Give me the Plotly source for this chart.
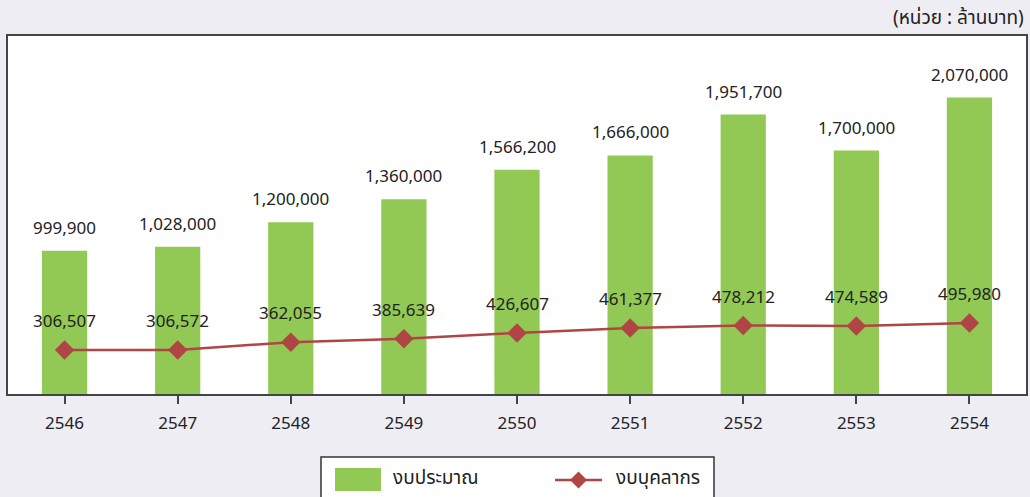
import plotly.graph_objects as go

years = ["2546", "2547", "2548", "2549", "2550", "2551", "2552", "2553", "2554"]
budget = [999900, 1028000, 1200000, 1360000, 1566200, 1666000, 1951700, 1700000, 2070000]
personnel = [306507, 306572, 362055, 385639, 426607, 461377, 478212, 474589, 495980]
budget_name = "งบประมาณ"
personnel_name = "งบบุคลากร"
unit_text = "(หน่วย : ล้านบาท)"

FONT = "Noto Sans Thai, Noto Sans, Lato, sans-serif"
TXT = "#222222"
GREEN = "#92c955"
RED = "#b04545"

# plot area in pixels (for manual legend placement)
L, R, T, B = 8, 1026, 36, 394
W, H = 1030, 497


def px(x):
    return (x - L) / (R - L)


def py(y):
    return (B - y) / (B - T)


fig = go.Figure()
fig.add_trace(go.Bar(
    x=years, y=budget, name=budget_name,
    marker=dict(color=GREEN, line=dict(width=0)),
    width=0.4, showlegend=False,
))
fig.add_trace(go.Scatter(
    x=years, y=personnel, name=personnel_name, mode="lines+markers",
    line=dict(color=RED, width=2.5),
    marker=dict(symbol="diamond", size=15, color=RED),
    cliponaxis=False, showlegend=False,
))

shapes = [
    # legend box
    dict(type="rect", xref="paper", yref="paper",
         x0=px(321), x1=px(714), y0=py(457), y1=py(505),
         line=dict(color="#333333", width=1.5), fillcolor="#ffffff", layer="above"),
    # bar legend symbol
    dict(type="rect", xref="paper", yref="paper",
         x0=px(335), x1=px(381), y0=py(468), y1=py(491),
         line=dict(width=0), fillcolor=GREEN, layer="above"),
    # line legend symbol
    dict(type="line", xref="paper", yref="paper",
         x0=px(555), x1=px(602), y0=py(480), y1=py(480),
         line=dict(color=RED, width=2.5), layer="above"),
    dict(type="path", xref="paper", yref="paper", layer="above",
         path=(f"M {px(570)} {py(480)} L {px(578.5)} {py(471.5)} "
               f"L {px(587)} {py(480)} L {px(578.5)} {py(488.5)} Z"),
         line=dict(width=0), fillcolor=RED),
]

annotations = [
    dict(text=unit_text, xref="paper", yref="paper", x=px(1026), y=py(18),
         xanchor="right", yanchor="middle", showarrow=False,
         font=dict(size=19, color=TXT, family=FONT)),
    dict(text=budget_name, xref="paper", yref="paper", x=px(391), y=py(479),
         xanchor="left", yanchor="middle", showarrow=False,
         font=dict(size=19, color=TXT, family=FONT)),
    dict(text=personnel_name, xref="paper", yref="paper", x=px(614), y=py(479),
         xanchor="left", yanchor="middle", showarrow=False,
         font=dict(size=19, color=TXT, family=FONT)),
]

# value labels anchored to the data points (category index on x)
for i, v in enumerate(budget):
    annotations.append(dict(
        x=i, y=v, xref="x", yref="y", text=f"{v:,}", showarrow=False,
        xanchor="center", yanchor="middle", yshift=22,
        font=dict(size=17, color=TXT, family=FONT)))
for i, v in enumerate(personnel):
    annotations.append(dict(
        x=i, y=v, xref="x", yref="y", text=f"{v:,}", showarrow=False,
        xanchor="center", yanchor="middle", yshift=28,
        font=dict(size=17, color=TXT, family=FONT)))

fig.update_layout(
    width=W, height=H,
    margin=dict(l=L, r=W - R, t=T, b=H - B, autoexpand=False),
    paper_bgcolor="#efedf4", plot_bgcolor="#ffffff",
    font=dict(family=FONT, size=17, color=TXT),
    showlegend=False,
    shapes=shapes,
    annotations=annotations,
)
fig.update_xaxes(
    type="category", range=[-0.5, 8.5],
    showline=True, mirror=True, linecolor="#444444", linewidth=1.5,
    ticks="outside", ticklen=8, tickcolor="#444444", tickwidth=1.5,
    ticklabelstandoff=5,
    tickfont=dict(size=17, color=TXT, family=FONT),
    showgrid=False,
)
fig.update_yaxes(
    range=[0, 2500000], showticklabels=False, showgrid=False, zeroline=False,
    showline=True, mirror=True, linecolor="#444444", linewidth=1.5,
)

fig.write_html(
    "out.html",
    config={"displayModeBar": False},
    post_script="document.body.style.margin='0';document.body.style.overflow='hidden';",
)
